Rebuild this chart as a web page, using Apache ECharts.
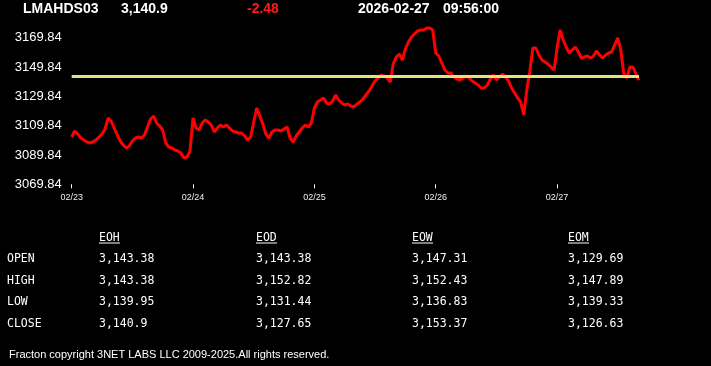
<!DOCTYPE html>
<html><head><meta charset="utf-8">
<script src="https://cdn.jsdelivr.net/npm/echarts@6/dist/echarts.min.js"></script>
<style>html,body{margin:0;padding:0;background:#000;}#c{width:711px;height:366px;}</style>
</head><body><div id="c"></div>
<script>
// ---- header ----
const symbolName = 'LMAHDS03';
const lastPrice = '3,140.9';
const priceChange = '-2.48';
const quoteDate = '2026-02-27';
const quoteTime = '09:56:00';
const prevClose = 3143.38;

// ---- axis ----
const dayLabels = ['02/23', '02/24', '02/25', '02/26', '02/27'];
const yMin = 3069.84, yMax = 3179.84, yStep = 20;

// ---- intraday series, one array per day ----
const day1 = [3102.10,3106.19,3104.15,3101.42,3100.06,3098.69,3098.01,3098.69,3100.06,3102.10,
  3104.15,3107.56,3115.06,3113.02,3108.24,3103.47,3099.37,3096.64,3094.60,3095.96,
  3099.37,3101.42,3102.10,3101.42,3103.47,3108.92,3114.38,3116.43,3111.65,3109.60,
  3106.88,3098.01,3095.28,3094.60,3093.24,3092.55,3091.19,3087.78,3088.46,3092.55];
const day2 = [3115.06,3108.24,3106.88,3111.65,3113.70,3112.33,3110.29,3105.51,3108.24,3110.29,
  3108.92,3110.29,3108.24,3106.19,3105.51,3104.83,3104.83,3102.78,3100.06,3102.10,
  3112.33,3121.88,3116.43,3110.97,3104.15,3101.42,3105.51,3106.88,3106.88,3106.19,
  3107.56,3108.92,3101.42,3098.69,3102.78,3105.51,3108.24,3110.29,3108.92,3111.65];
const day3 = [3121.88,3125.98,3127.34,3128.71,3125.29,3124.61,3126.66,3130.75,3127.34,3125.29,
  3123.93,3124.61,3123.24,3122.56,3124.61,3125.98,3128.02,3130.75,3133.48,3136.89,
  3140.30,3142.35,3144.39,3143.71,3142.35,3139.62,3151.90,3156.67,3158.72,3154.62,
  3162.13,3166.90,3170.31,3172.36,3174.41,3175.09,3175.09,3176.45,3176.45,3175.09];
const day4 = [3159.40,3157.35,3152.58,3147.80,3145.76,3145.76,3143.03,3141.67,3140.98,3142.35,
  3143.71,3142.35,3140.30,3138.94,3137.57,3135.53,3135.53,3137.57,3141.67,3144.39,
  3140.98,3143.03,3145.08,3143.03,3140.30,3135.53,3132.12,3128.71,3125.98,3117.11,
  3134.16,3146.44,3162.81,3162.81,3158.03,3154.62,3153.26,3151.90,3149.85,3147.80];
const day5 = [3162.81,3175.09,3168.27,3163.49,3159.40,3161.45,3163.49,3160.08,3155.99,3156.67,
  3157.35,3155.99,3157.35,3160.76,3158.03,3155.99,3158.03,3159.40,3160.08,3164.86,
  3169.63,3161.45,3145.08,3142.35,3149.85,3149.85,3145.08,3140.90];

// ---- table ----
const tableCols = ['EOH', 'EOD', 'EOW', 'EOM'];
const tableRows = ['OPEN', 'HIGH', 'LOW', 'CLOSE'];
const eohValues = ['3,143.38', '3,143.38', '3,139.95', '3,140.9'];
const eodValues = ['3,143.38', '3,152.82', '3,131.44', '3,127.65'];
const eowValues = ['3,147.31', '3,152.43', '3,136.83', '3,153.37'];
const eomValues = ['3,129.69', '3,147.89', '3,139.33', '3,126.63'];
const footerText = 'Fracton copyright 3NET LABS LLC 2009-2025.All rights reserved.';

// ---- build ----
const days = [day1, day2, day3, day4, day5];
const categories = [], values = [], dayStart = {};
days.forEach((d, di) => {
  dayStart[categories.length] = dayLabels[di];
  d.forEach((v, k) => { categories.push(dayLabels[di] + '#' + k); values.push(v); });
});

const chart = echarts.init(document.getElementById('c'), null, {renderer: 'canvas'});
const gfx = [];
const headFont = 'bold 14px "Liberation Sans", Arial, sans-serif';
const head = [[symbolName, 23, '#fff'], [lastPrice, 121, '#fff'], [priceChange, 247, '#ff1a1a'],
  [quoteDate, 358, '#fff'], [quoteTime, 443, '#fff']];
head.forEach(h => gfx.push({type: 'text', x: h[1], y: 9.5, style: {text: h[0], fill: h[2], font: headFont, verticalAlign: 'middle'}}));

const monoFont = '11.5px "DejaVu Sans Mono", "Liberation Mono", monospace';
const colX = [99, 256, 412, 568];
const rowY = [259.5, 281, 302.5, 324];
const colVals = [eohValues, eodValues, eowValues, eomValues];
tableCols.forEach((c, ci) => {
  gfx.push({type: 'text', x: colX[ci], y: 238, style: {text: c, fill: '#fff', font: monoFont, verticalAlign: 'middle'}});
  gfx.push({type: 'line', shape: {x1: colX[ci], y1: 243, x2: colX[ci] + 21, y2: 243}, style: {stroke: '#fff', lineWidth: 1}});
  colVals[ci].forEach((v, ri) => gfx.push({type: 'text', x: colX[ci], y: rowY[ri], style: {text: v, fill: '#fff', font: monoFont, verticalAlign: 'middle'}}));
});
tableRows.forEach((r, ri) => gfx.push({type: 'text', x: 7, y: rowY[ri], style: {text: r, fill: '#fff', font: monoFont, verticalAlign: 'middle'}}));
gfx.push({type: 'text', x: 9, y: 355, style: {text: footerText, fill: '#fff', font: '11px "Liberation Sans", Arial, sans-serif', verticalAlign: 'middle'}});

chart.setOption({
  backgroundColor: '#000',
  animation: false,
  grid: {left: 71.7, right: 72, top: 23, bottom: 181.7, containLabel: false},
  xAxis: {
    type: 'category', data: categories, boundaryGap: false,
    axisLine: {show: false},
    axisTick: {show: true, length: 4, interval: (i) => dayStart[i] !== undefined, lineStyle: {color: '#fff', width: 1}},
    axisLabel: {interval: (i) => dayStart[i] !== undefined, formatter: (v) => v.split('#')[0],
      color: '#eee', fontSize: 9, margin: 9, fontFamily: '"Liberation Sans", Arial, sans-serif'},
    splitLine: {show: false}
  },
  yAxis: {
    type: 'value', min: yMin, max: yMax, interval: yStep,
    axisLine: {show: false}, axisTick: {show: false}, splitLine: {show: false},
    axisLabel: {showMaxLabel: false, color: '#fff', fontSize: 13, margin: 10,
      fontFamily: '"Liberation Sans", Arial, sans-serif', formatter: (v) => Number(v).toFixed(2)}
  },
  series: [{
    type: 'line', data: values, showSymbol: false, symbol: 'none',
    lineStyle: {color: '#ff0000', width: 3}, itemStyle: {color: '#ff0000'},
    markLine: {silent: true, symbol: 'none', label: {show: false},
      lineStyle: {color: '#dfe47e', width: 3, type: 'solid'},
      data: [{yAxis: prevClose}]}
  }],
  graphic: gfx
});
</script></body></html>
